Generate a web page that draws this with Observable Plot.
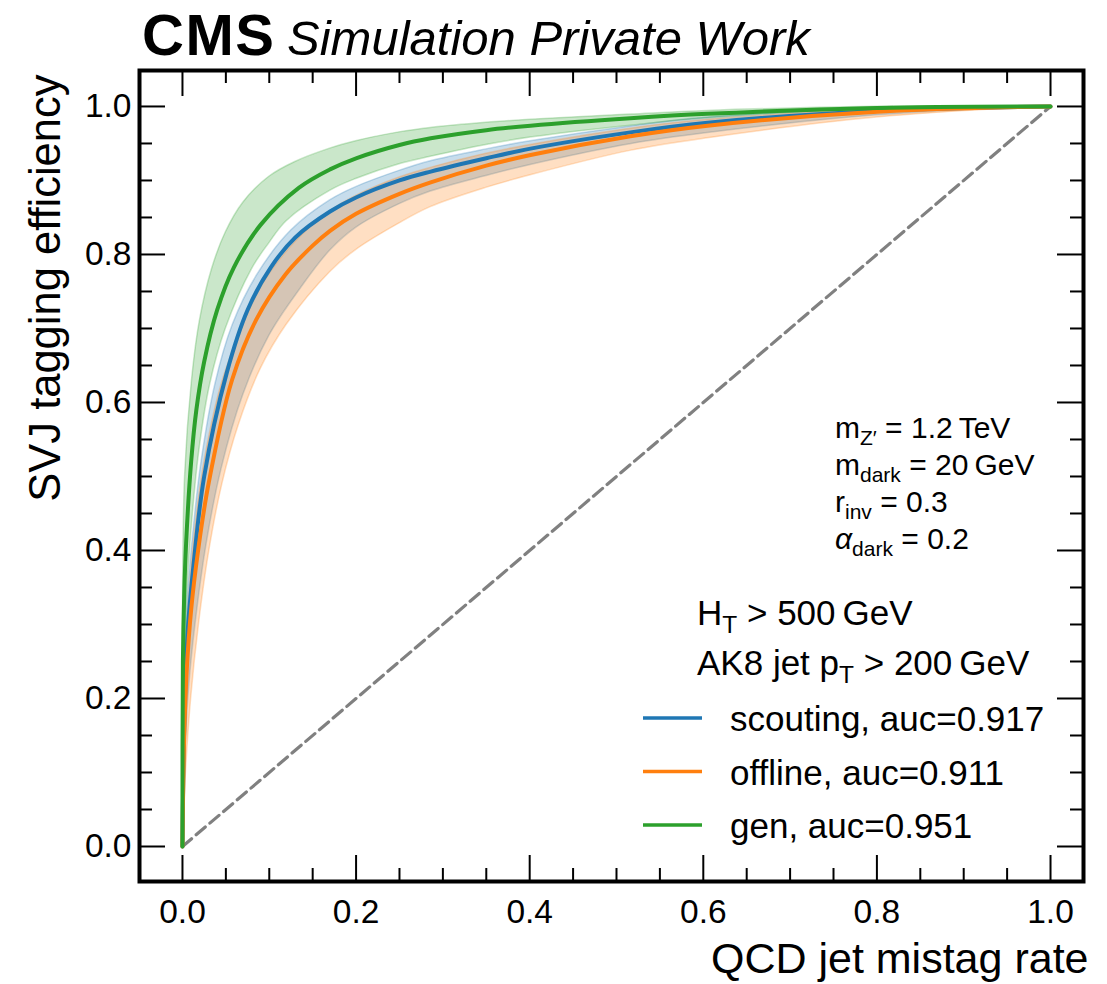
<!DOCTYPE html>
<html>
<head>
<meta charset="utf-8">
<script src="https://cdn.jsdelivr.net/npm/d3@7"></script>
<script src="https://cdn.jsdelivr.net/npm/@observablehq/plot@0.6"></script>
<style>
  html, body { margin: 0; padding: 0; background: #ffffff; }
  #chart svg { display: block; }
  #chart text { white-space: pre; }
</style>
</head>
<body>
<div id="chart"></div>
<script>
// ROC curves: [mistag rate, tagging efficiency]
const scoutingCurve = [[0,0],[0.002,0.16],[0.006,0.29],[0.0127,0.38],[0.025,0.50],[0.051,0.64],[0.075,0.725],[0.102,0.783],[0.13,0.823],[0.17,0.858],[0.2,0.877],[0.25,0.90],[0.286,0.912],[0.35,0.930],[0.401,0.943],[0.516,0.965],[0.605,0.978],[0.8,0.994],[1,1]];
const offlineCurve  = [[0,0],[0.002,0.15],[0.005,0.24],[0.01,0.32],[0.018,0.40],[0.03,0.49],[0.057,0.63],[0.085,0.712],[0.118,0.772],[0.15,0.812],[0.17,0.832],[0.2,0.855],[0.25,0.882],[0.286,0.8975],[0.35,0.92],[0.401,0.9344],[0.516,0.9597],[0.605,0.974],[0.8,0.993],[1,1]];
const genCurve      = [[0,0],[0.0005,0.25],[0.002,0.34],[0.0042,0.41],[0.01,0.52],[0.016,0.59],[0.025,0.655],[0.04,0.725],[0.059,0.782],[0.09,0.84],[0.134,0.89],[0.17,0.915],[0.2,0.93],[0.25,0.948],[0.286,0.957],[0.35,0.968],[0.401,0.974],[0.516,0.984],[0.605,0.99],[0.8,0.998],[1,1]];

// Uncertainty bands: upper and lower edges, paired row by row
const scoutingBandHi = [[0,0],[0.002,0.19],[0.006,0.33],[0.013,0.43],[0.022,0.52],[0.038,0.625],[0.058,0.705],[0.086,0.772],[0.125,0.832],[0.17,0.873],[0.2,0.891],[0.25,0.913],[0.286,0.926],[0.35,0.942],[0.401,0.953],[0.516,0.973],[0.605,0.985],[0.8,0.997],[1,1]];
const scoutingBandLo = [[0,0],[0.003,0.12],[0.008,0.22],[0.016,0.31],[0.028,0.41],[0.045,0.51],[0.07,0.61],[0.1,0.69],[0.135,0.752],[0.17,0.805],[0.2,0.836],[0.25,0.868],[0.286,0.885],[0.35,0.906],[0.401,0.921],[0.516,0.949],[0.605,0.964],[0.8,0.988],[1,1]];
const offlineBandHi  = [[0,0],[0.002,0.17],[0.006,0.30],[0.013,0.41],[0.024,0.51],[0.044,0.62],[0.065,0.69],[0.09,0.755],[0.13,0.817],[0.17,0.858],[0.2,0.879],[0.25,0.904],[0.286,0.917],[0.35,0.936],[0.401,0.948],[0.516,0.97],[0.605,0.982],[0.8,0.996],[1,1]];
const offlineBandLo  = [[0,0],[0.004,0.1],[0.01,0.2],[0.019,0.30],[0.031,0.40],[0.046,0.49],[0.065,0.57],[0.09,0.645],[0.12,0.705],[0.17,0.776],[0.2,0.806],[0.25,0.842],[0.286,0.864],[0.35,0.89],[0.401,0.907],[0.516,0.94],[0.605,0.957],[0.8,0.985],[1,1]];
const genBandHi      = [[0,0],[0.0005,0.3],[0.003,0.5],[0.011,0.63],[0.02,0.71],[0.034,0.78],[0.05,0.83],[0.07,0.87],[0.1,0.905],[0.13,0.925],[0.17,0.943],[0.2,0.953],[0.25,0.965],[0.286,0.971],[0.35,0.978],[0.401,0.982],[0.516,0.989],[0.605,0.994],[0.8,0.9995],[1,1]];
const genBandLo      = [[0,0],[0.002,0.2],[0.006,0.35],[0.012,0.45],[0.02,0.54],[0.032,0.625],[0.05,0.70],[0.08,0.78],[0.1,0.815],[0.12,0.845],[0.17,0.886],[0.2,0.902],[0.25,0.922],[0.286,0.932],[0.35,0.948],[0.401,0.958],[0.516,0.974],[0.605,0.984],[0.8,0.997],[1,1]];

// Random-guess reference
const diagonal = [[0,0],[1,1]];

const seriesNames  = ["scouting", "offline", "gen"];
const seriesAuc    = [0.917, 0.911, 0.951];
const seriesColors = ["#1f77b4", "#ff7f0e", "#2ca02c"];

const majorTicks = [0, 0.2, 0.4, 0.6, 0.8, 1.0];
const minorTicks = [0.05, 0.1, 0.15, 0.25, 0.3, 0.35, 0.45, 0.5, 0.55, 0.65, 0.7, 0.75, 0.85, 0.9, 0.95];

const xLabel = "QCD jet mistag rate";
const yLabel = "SVJ tagging efficiency";

// Signal model parameters and selection (text runs: [text, style])
const modelParams = [
  [["m", ""], ["Z\u2032", "sub"], [" = 1.2\u2009TeV", ""]],
  [["m", ""], ["dark", "sub"], [" = 20\u2009GeV", ""]],
  [["r", ""], ["inv", "sub"], [" = 0.3", ""]],
  [["\u03B1", "it"], ["dark", "sub"], [" = 0.2", ""]]
];
const selectionCuts = [
  [["H", ""], ["T", "sub"], [" > 500\u2009GeV", ""]],
  [["AK8 jet p", ""], ["T", "sub"], [" > 200\u2009GeV", ""]]
];

const curves = [scoutingCurve, offlineCurve, genCurve];
const bands = [[scoutingBandHi, scoutingBandLo], [offlineBandHi, offlineBandLo], [genBandHi, genBandLo]];

const W = 1107, H = 984;
const mL = 139, mR = 24, mT = 70, mB = 103;
const frameW = W - mL - mR, frameH = H - mT - mB;
const majorLen = 26, minorLen = 13;
const font = "'Liberation Sans', Arial, Helvetica, sans-serif";

const bandMarks = bands.map(([hi, lo], i) =>
  Plot.area(hi.map((p, j) => ({x1: p[0], y1: p[1], x2: lo[j][0], y2: lo[j][1]})), {
    x1: "x1", y1: "y1", x2: "x2", y2: "y2",
    fill: seriesColors[i], fillOpacity: 0.25,
    stroke: seriesColors[i], strokeOpacity: 0.25, strokeWidth: 1.5,
    curve: "catmull-rom"
  })
);
const lineMarks = curves.map((c, i) =>
  Plot.line(c, {x: d => d[0], y: d => d[1], stroke: seriesColors[i], strokeWidth: 4, curve: "catmull-rom"})
);

const tickStyle = {stroke: "black", strokeWidth: 2};
const plot = Plot.plot({
  width: W, height: H,
  marginLeft: mL, marginRight: mR, marginTop: mT, marginBottom: mB,
  style: {fontFamily: font, background: "white", color: "black"},
  x: {domain: [-0.0495, 1.038]},
  y: {domain: [-0.0473, 1.0486]},
  marks: [
    ...bandMarks,
    Plot.line(diagonal, {x: d => d[0], y: d => d[1], stroke: "#808080", strokeWidth: 3.2, strokeDasharray: "12,6"}),
    ...lineMarks,
    // inward ticks on all four sides
    Plot.tickX(majorTicks, {x: d => d, insetTop: frameH - majorLen, ...tickStyle}),
    Plot.tickX(majorTicks, {x: d => d, insetBottom: frameH - majorLen, ...tickStyle}),
    Plot.tickX(minorTicks, {x: d => d, insetTop: frameH - minorLen, ...tickStyle}),
    Plot.tickX(minorTicks, {x: d => d, insetBottom: frameH - minorLen, ...tickStyle}),
    Plot.tickY(majorTicks, {y: d => d, insetRight: frameW - majorLen, ...tickStyle}),
    Plot.tickY(majorTicks, {y: d => d, insetLeft: frameW - majorLen, ...tickStyle}),
    Plot.tickY(minorTicks, {y: d => d, insetRight: frameW - minorLen, ...tickStyle}),
    Plot.tickY(minorTicks, {y: d => d, insetLeft: frameW - minorLen, ...tickStyle}),
    Plot.axisX(majorTicks, {tickSize: 0, tickPadding: 18, tickFormat: d3.format(".1f"), fontSize: 33.5, label: null}),
    Plot.axisY(majorTicks, {tickSize: 0, tickPadding: 8, tickFormat: d3.format(".1f"), fontSize: 33.5, label: null}),
    Plot.frame({stroke: "black", strokeWidth: 4}),
    Plot.text([xLabel], {text: d => d, frameAnchor: "bottom-right", textAnchor: "end", lineAnchor: "bottom", dx: 5, dy: 91, fontSize: 43}),
    Plot.text([yLabel], {text: d => d, frameAnchor: "top-left", textAnchor: "end", lineAnchor: "top", rotate: -90, dx: -110, dy: 4, fontSize: 43.5})
  ]
});
document.getElementById("chart").appendChild(plot);

// Experiment label, parameter block and legend
const svg = d3.select(plot);
const ann = svg.append("g").attr("font-family", font).attr("fill", "black").attr("text-anchor", "start");

function richText(x, y, runs, size) {
  const t = ann.append("text").attr("x", x).attr("y", y).attr("font-size", size);
  let shift = 0;
  for (const [str, kind] of runs) {
    const target = kind === "sub" ? size * 0.22 : 0;
    const ts = t.append("tspan").text(str).attr("dy", target - shift);
    shift = target;
    if (kind === "sub") ts.attr("font-size", size * 0.7);
    if (kind === "it") ts.attr("font-style", "italic");
  }
  return t;
}

const head = ann.append("text").attr("x", mL + 3).attr("y", 55);
head.append("tspan").attr("font-weight", "bold").attr("font-size", 58).attr("letter-spacing", 1.5).text("CMS");
head.append("tspan").attr("x", 287).attr("font-style", "italic").attr("font-size", 49).attr("letter-spacing", 0).text("Simulation Private Work");

modelParams.forEach((runs, i) => richText(835, 438 + i * 37, runs, 30));
selectionCuts.forEach((runs, i) => richText(697, 625 + i * 50, runs, 35));

const legend = ann.append("g");
seriesNames.forEach((name, i) => {
  const base = 731 + i * 53.5;
  legend.append("line").attr("x1", 643).attr("x2", 702).attr("y1", base - 13).attr("y2", base - 13)
    .attr("stroke", seriesColors[i]).attr("stroke-width", 3.5);
  legend.append("text").attr("x", 730).attr("y", base).attr("font-size", 35)
    .text(`${name}, auc=${seriesAuc[i].toFixed(3)}`);
});
</script>
</body>
</html>
